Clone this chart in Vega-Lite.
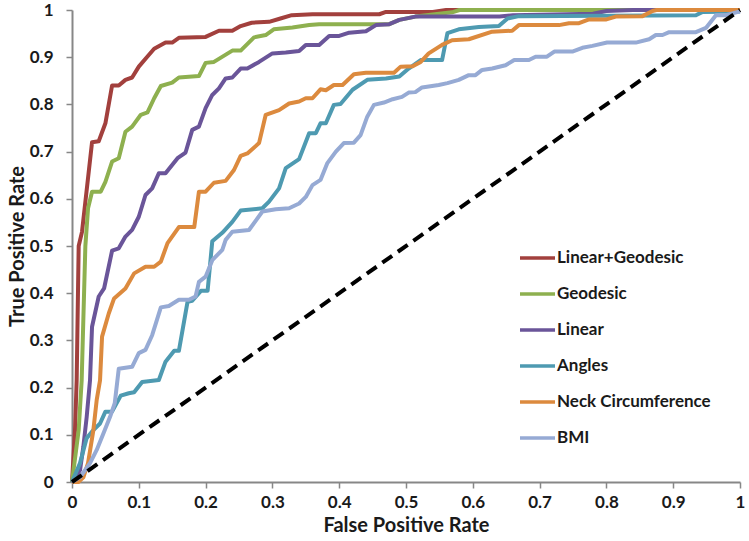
{
  "$schema": "https://vega.github.io/schema/vega-lite/v6.json",
  "width": 668,
  "height": 472,
  "autosize": {"type": "none"},
  "padding": {"left": 72, "top": 10, "right": 9, "bottom": 59},
  "background": "white",
  "config": {
    "font": "Lato",
    "view": {"stroke": null},
    "axis": {
      "domainColor": "#878787",
      "domainWidth": 2,
      "tickColor": "#878787",
      "tickWidth": 1.5,
      "tickSize": 6,
      "grid": false,
      "labelFont": "Lato",
      "labelFontWeight": "bold",
      "labelFontSize": 17,
      "labelColor": "#1a1a1a",
      "titleFont": "Lato",
      "titleFontWeight": "bold",
      "titleFontSize": 20,
      "titleColor": "#1a1a1a"
    },
    "legend": {
      "labelFont": "Lato",
      "labelFontWeight": "bold",
      "labelFontSize": 17,
      "labelColor": "#1a1a1a"
    }
  },
  "datasets": {
    "lg": [
      {"x":0,"y":0},{"x":0.0045,"y":0.11},{"x":0.007,"y":0.216},{"x":0.01,"y":0.5},{"x":0.015,"y":0.53},{"x":0.03,"y":0.72},{"x":0.04,"y":0.722},{"x":0.05,"y":0.76},{"x":0.06,"y":0.84},{"x":0.07,"y":0.84},{"x":0.08,"y":0.852},{"x":0.09,"y":0.857},{"x":0.1,"y":0.88},{"x":0.112,"y":0.9},{"x":0.123,"y":0.918},{"x":0.14,"y":0.931},{"x":0.15,"y":0.931},{"x":0.16,"y":0.941},{"x":0.2,"y":0.943},{"x":0.22,"y":0.956},{"x":0.24,"y":0.956},{"x":0.2525,"y":0.966},{"x":0.269,"y":0.973},{"x":0.295,"y":0.975},{"x":0.312,"y":0.982},{"x":0.329,"y":0.989},{"x":0.36,"y":0.991},{"x":0.46,"y":0.991},{"x":0.47,"y":0.996},{"x":0.54,"y":0.996},{"x":0.56,"y":1},{"x":1,"y":1}
    ],
    "geo": [
      {"x":0,"y":0},{"x":0.01,"y":0.11},{"x":0.0145,"y":0.216},{"x":0.02,"y":0.5},{"x":0.024,"y":0.58},{"x":0.03,"y":0.615},{"x":0.043,"y":0.615},{"x":0.05,"y":0.636},{"x":0.06,"y":0.679},{"x":0.07,"y":0.686},{"x":0.08,"y":0.742},{"x":0.09,"y":0.753},{"x":0.103,"y":0.778},{"x":0.113,"y":0.783},{"x":0.123,"y":0.813},{"x":0.133,"y":0.839},{"x":0.15,"y":0.846},{"x":0.16,"y":0.857},{"x":0.19,"y":0.86},{"x":0.2,"y":0.888},{"x":0.2125,"y":0.89},{"x":0.24,"y":0.914},{"x":0.2525,"y":0.914},{"x":0.2725,"y":0.942},{"x":0.29,"y":0.947},{"x":0.302,"y":0.959},{"x":0.33,"y":0.963},{"x":0.355,"y":0.968},{"x":0.37,"y":0.97},{"x":0.475,"y":0.97},{"x":0.49,"y":0.979},{"x":0.514,"y":0.986},{"x":0.569,"y":0.995},{"x":0.58,"y":1},{"x":1,"y":1}
    ],
    "lin": [
      {"x":0,"y":0},{"x":0.012,"y":0.025},{"x":0.017,"y":0.075},{"x":0.022,"y":0.138},{"x":0.027,"y":0.216},{"x":0.03,"y":0.329},{"x":0.04,"y":0.393},{"x":0.048,"y":0.41},{"x":0.06,"y":0.49},{"x":0.07,"y":0.495},{"x":0.08,"y":0.52},{"x":0.09,"y":0.534},{"x":0.1,"y":0.562},{"x":0.11,"y":0.608},{"x":0.12,"y":0.622},{"x":0.13,"y":0.654},{"x":0.14,"y":0.654},{"x":0.158,"y":0.686},{"x":0.17,"y":0.698},{"x":0.18,"y":0.746},{"x":0.19,"y":0.753},{"x":0.2,"y":0.792},{"x":0.21,"y":0.82},{"x":0.22,"y":0.834},{"x":0.23,"y":0.855},{"x":0.24,"y":0.857},{"x":0.2525,"y":0.876},{"x":0.2625,"y":0.876},{"x":0.28,"y":0.89},{"x":0.3,"y":0.908},{"x":0.32,"y":0.91},{"x":0.34,"y":0.913},{"x":0.35,"y":0.926},{"x":0.37,"y":0.926},{"x":0.385,"y":0.945},{"x":0.4,"y":0.945},{"x":0.415,"y":0.952},{"x":0.44,"y":0.955},{"x":0.455,"y":0.968},{"x":0.475,"y":0.97},{"x":0.49,"y":0.979},{"x":0.514,"y":0.986},{"x":0.64,"y":0.986},{"x":0.66,"y":0.989},{"x":0.78,"y":0.992},{"x":0.8,"y":0.998},{"x":0.84,"y":1},{"x":1,"y":1}
    ],
    "ang": [
      {"x":0,"y":0},{"x":0.012,"y":0.04},{"x":0.022,"y":0.093},{"x":0.032,"y":0.11},{"x":0.042,"y":0.124},{"x":0.05,"y":0.149},{"x":0.06,"y":0.149},{"x":0.073,"y":0.183},{"x":0.085,"y":0.188},{"x":0.093,"y":0.19},{"x":0.105,"y":0.212},{"x":0.13,"y":0.216},{"x":0.14,"y":0.255},{"x":0.153,"y":0.278},{"x":0.16,"y":0.278},{"x":0.173,"y":0.382},{"x":0.18,"y":0.384},{"x":0.193,"y":0.405},{"x":0.203,"y":0.405},{"x":0.21,"y":0.51},{"x":0.225,"y":0.528},{"x":0.24,"y":0.551},{"x":0.2525,"y":0.575},{"x":0.285,"y":0.58},{"x":0.295,"y":0.594},{"x":0.31,"y":0.622},{"x":0.32,"y":0.665},{"x":0.34,"y":0.684},{"x":0.355,"y":0.739},{"x":0.365,"y":0.739},{"x":0.372,"y":0.76},{"x":0.38,"y":0.76},{"x":0.392,"y":0.799},{"x":0.402,"y":0.801},{"x":0.42,"y":0.831},{"x":0.442,"y":0.852},{"x":0.47,"y":0.855},{"x":0.49,"y":0.859},{"x":0.504,"y":0.876},{"x":0.522,"y":0.894},{"x":0.554,"y":0.894},{"x":0.562,"y":0.951},{"x":0.579,"y":0.959},{"x":0.609,"y":0.964},{"x":0.639,"y":0.966},{"x":0.652,"y":0.982},{"x":0.669,"y":0.987},{"x":0.934,"y":0.989},{"x":0.944,"y":0.996},{"x":1,"y":0.997}
    ],
    "neck": [
      {"x":0,"y":0},{"x":0.0095,"y":0},{"x":0.017,"y":0.01},{"x":0.024,"y":0.04},{"x":0.032,"y":0.11},{"x":0.037,"y":0.174},{"x":0.042,"y":0.216},{"x":0.045,"y":0.308},{"x":0.055,"y":0.357},{"x":0.063,"y":0.389},{"x":0.08,"y":0.41},{"x":0.093,"y":0.442},{"x":0.11,"y":0.456},{"x":0.123,"y":0.456},{"x":0.133,"y":0.467},{"x":0.143,"y":0.506},{"x":0.16,"y":0.54},{"x":0.183,"y":0.54},{"x":0.19,"y":0.615},{"x":0.2,"y":0.615},{"x":0.2125,"y":0.634},{"x":0.23,"y":0.638},{"x":0.2425,"y":0.661},{"x":0.2525,"y":0.691},{"x":0.2625,"y":0.696},{"x":0.28,"y":0.718},{"x":0.29,"y":0.778},{"x":0.31,"y":0.788},{"x":0.325,"y":0.802},{"x":0.34,"y":0.806},{"x":0.35,"y":0.813},{"x":0.36,"y":0.813},{"x":0.372,"y":0.832},{"x":0.38,"y":0.83},{"x":0.392,"y":0.841},{"x":0.405,"y":0.841},{"x":0.422,"y":0.864},{"x":0.44,"y":0.867},{"x":0.482,"y":0.867},{"x":0.492,"y":0.88},{"x":0.51,"y":0.881},{"x":0.522,"y":0.89},{"x":0.534,"y":0.908},{"x":0.554,"y":0.926},{"x":0.569,"y":0.936},{"x":0.594,"y":0.938},{"x":0.629,"y":0.954},{"x":0.659,"y":0.956},{"x":0.669,"y":0.968},{"x":0.729,"y":0.968},{"x":0.744,"y":0.972},{"x":0.759,"y":0.972},{"x":0.774,"y":0.98},{"x":0.8,"y":0.98},{"x":0.814,"y":0.986},{"x":0.854,"y":0.987},{"x":0.869,"y":0.998},{"x":0.875,"y":1},{"x":1,"y":1}
    ],
    "bmi": [
      {"x":0,"y":0},{"x":0.012,"y":0.01},{"x":0.027,"y":0.04},{"x":0.037,"y":0.068},{"x":0.047,"y":0.103},{"x":0.057,"y":0.138},{"x":0.064,"y":0.167},{"x":0.07,"y":0.24},{"x":0.09,"y":0.244},{"x":0.1,"y":0.273},{"x":0.11,"y":0.28},{"x":0.12,"y":0.311},{"x":0.133,"y":0.37},{"x":0.145,"y":0.373},{"x":0.16,"y":0.386},{"x":0.175,"y":0.386},{"x":0.185,"y":0.393},{"x":0.19,"y":0.424},{"x":0.2,"y":0.435},{"x":0.21,"y":0.47},{"x":0.225,"y":0.492},{"x":0.23,"y":0.513},{"x":0.24,"y":0.53},{"x":0.265,"y":0.534},{"x":0.285,"y":0.573},{"x":0.305,"y":0.578},{"x":0.325,"y":0.58},{"x":0.34,"y":0.59},{"x":0.35,"y":0.604},{"x":0.36,"y":0.629},{"x":0.372,"y":0.64},{"x":0.382,"y":0.675},{"x":0.395,"y":0.7},{"x":0.407,"y":0.718},{"x":0.422,"y":0.719},{"x":0.432,"y":0.735},{"x":0.442,"y":0.774},{"x":0.452,"y":0.799},{"x":0.467,"y":0.804},{"x":0.48,"y":0.811},{"x":0.494,"y":0.816},{"x":0.504,"y":0.825},{"x":0.514,"y":0.826},{"x":0.524,"y":0.836},{"x":0.549,"y":0.841},{"x":0.562,"y":0.845},{"x":0.579,"y":0.852},{"x":0.594,"y":0.862},{"x":0.604,"y":0.862},{"x":0.614,"y":0.873},{"x":0.629,"y":0.876},{"x":0.649,"y":0.883},{"x":0.662,"y":0.894},{"x":0.684,"y":0.894},{"x":0.694,"y":0.901},{"x":0.711,"y":0.901},{"x":0.722,"y":0.912},{"x":0.749,"y":0.912},{"x":0.764,"y":0.92},{"x":0.779,"y":0.924},{"x":0.801,"y":0.931},{"x":0.844,"y":0.931},{"x":0.864,"y":0.938},{"x":0.874,"y":0.947},{"x":0.884,"y":0.947},{"x":0.894,"y":0.953},{"x":0.934,"y":0.953},{"x":0.949,"y":0.962},{"x":0.964,"y":0.989},{"x":0.979,"y":0.989},{"x":1,"y":0.997}
    ],
    "diag": [{"x":0,"y":0},{"x":1,"y":1}]
  },
  "encoding": {
    "x": {
      "field": "x", "type": "quantitative",
      "scale": {"domain": [0, 1], "nice": false, "zero": false},
      "axis": {"title": "False Positive Rate", "values": [0,0.1,0.2,0.3,0.4,0.5,0.6,0.7,0.8,0.9,1], "format": "~g", "labelPadding": 6, "titlePadding": 5, "labelFlush": false}
    },
    "y": {
      "field": "y", "type": "quantitative",
      "scale": {"domain": [0, 1], "nice": false, "zero": false},
      "axis": {"title": "True Positive Rate", "values": [0,0.1,0.2,0.3,0.4,0.5,0.6,0.7,0.8,0.9,1], "format": "~g", "labelPadding": 13, "titlePadding": 2, "labelFlush": false}
    }
  },
  "layer": [
    {"data": {"name": "lg"}, "mark": {"type": "line", "strokeWidth": 4, "strokeJoin": "round"},
     "encoding": {"color": {"datum": "Linear+Geodesic", "type": "nominal",
       "scale": {"domain": ["Linear+Geodesic","Geodesic","Linear","Angles","Neck Circumference","BMI"],
                 "range": ["#A2403D","#8EB04F","#6A5599","#4E9AB1","#DC8A3E","#96AAD4"]},
       "legend": {"title": null, "orient": "none", "legendX": 446, "legendY": 230, "symbolType": "stroke", "symbolSize": 1225, "symbolStrokeWidth": 3.5, "labelOffset": 0, "clipHeight": 36, "rowPadding": 0, "padding": 0}}}},
    {"data": {"name": "geo"}, "mark": {"type": "line", "strokeWidth": 4, "strokeJoin": "round"},
     "encoding": {"color": {"datum": "Geodesic", "type": "nominal"}}},
    {"data": {"name": "lin"}, "mark": {"type": "line", "strokeWidth": 4, "strokeJoin": "round"},
     "encoding": {"color": {"datum": "Linear", "type": "nominal"}}},
    {"data": {"name": "ang"}, "mark": {"type": "line", "strokeWidth": 4, "strokeJoin": "round"},
     "encoding": {"color": {"datum": "Angles", "type": "nominal"}}},
    {"data": {"name": "neck"}, "mark": {"type": "line", "strokeWidth": 4, "strokeJoin": "round"},
     "encoding": {"color": {"datum": "Neck Circumference", "type": "nominal"}}},
    {"data": {"name": "bmi"}, "mark": {"type": "line", "strokeWidth": 4, "strokeJoin": "round"},
     "encoding": {"color": {"datum": "BMI", "type": "nominal"}}},
    {"data": {"name": "diag"}, "mark": {"type": "line", "strokeWidth": 4, "color": "#000000", "strokeDash": [12, 7]},
     "encoding": {}}
  ]
}
